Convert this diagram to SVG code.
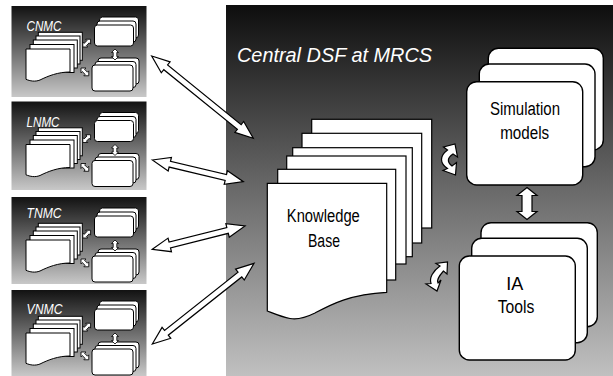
<svg xmlns="http://www.w3.org/2000/svg" xmlns:xlink="http://www.w3.org/1999/xlink" width="613" height="376" viewBox="0 0 613 376">
<style>
.pg{fill:#fff;stroke:#000;stroke-width:1.2}
.card{fill:#fff;stroke:#000;stroke-width:1}
.big{fill:#fff;stroke:#000;stroke-width:1.4}
.arr{fill:#fff;stroke:#000;stroke-width:1.2;stroke-linejoin:miter}
.sarr{fill:#fff;stroke:#000;stroke-width:0.8}
.lbl{font-family:"Liberation Sans",Arial,sans-serif;font-style:italic;fill:#fff}
.txt{font-family:"Liberation Sans",Arial,sans-serif;fill:#000;text-anchor:middle}
</style>
<defs>
<linearGradient id="gMain" x1="0" y1="0" x2="0" y2="1">
<stop offset="0" stop-color="#0e0e0e"/>
<stop offset="0.5" stop-color="#6a6a6a"/>
<stop offset="1" stop-color="#c0c0c0"/>
</linearGradient>
<linearGradient id="gPanel" x1="0" y1="0" x2="0" y2="1">
<stop offset="0" stop-color="#121212"/>
<stop offset="1" stop-color="#c8c8c8"/>
</linearGradient>
<g id="mini">
<rect class="card" x="38.3" y="32.3" width="44" height="28"/>
<rect class="card" x="36" y="36" width="44" height="28"/>
<rect class="card" x="33.3" y="40" width="44" height="28"/>
<rect class="card" x="30" y="44.5" width="44" height="28"/>
<path class="card" d="M26,49 H70 V72 C58,72 48,76 40,80 C35,82 30,81 26,79.3 Z"/>
<rect class="card" x="99.5" y="17" width="39" height="21" rx="3"/>
<rect class="card" x="97" y="21" width="39" height="21" rx="3"/>
<rect class="card" x="94.5" y="25" width="39" height="21" rx="3"/>
<rect class="card" x="98" y="58" width="41" height="26" rx="3"/>
<rect class="card" x="95" y="61.5" width="41" height="26" rx="3"/>
<rect class="card" x="92" y="65" width="41" height="26" rx="3"/>
<path class="sarr" transform="translate(115,49) rotate(90)" d="M0,0 L3.5,-3.5 L3.5,-1.8 L7.5,-1.8 L7.5,-3.5 L11,0 L7.5,3.5 L7.5,1.8 L3.5,1.8 L3.5,3.5 Z"/>
<path class="sarr" transform="translate(82.8,47) rotate(-45)" d="M0,0 L3.5,-3.5 L3.5,-1.6 L7.5,-1.6 L7.5,-3.5 L11,0 L7.5,3.5 L7.5,1.6 L3.5,1.6 L3.5,3.5 Z"/>
<path class="sarr" transform="translate(81,68) rotate(45)" d="M0,0 L3.5,-3.5 L3.5,-1.6 L7.5,-1.6 L7.5,-3.5 L11,0 L7.5,3.5 L7.5,1.6 L3.5,1.6 L3.5,3.5 Z"/>
</g>
</defs>
<rect width="613" height="376" fill="#fff"/>

<g id="central">
<rect x="226" y="5" width="387" height="371" fill="url(#gMain)"/>
<text class="lbl" x="237" y="62" font-size="20" textLength="195" lengthAdjust="spacingAndGlyphs">Central DSF at MRCS</text>
</g>

<g id="panel-cnmc">
<rect x="11.5" y="6" width="135" height="91" fill="url(#gPanel)"/>
<text class="lbl" x="26.5" y="31" font-size="14" textLength="35" lengthAdjust="spacingAndGlyphs">CNMC</text>
<use xlink:href="#mini"/>
</g>
<g id="panel-lnmc">
<rect x="11.5" y="101.5" width="135" height="88.5" fill="url(#gPanel)"/>
<text class="lbl" x="26.5" y="126.5" font-size="14" textLength="33" lengthAdjust="spacingAndGlyphs">LNMC</text>
<use xlink:href="#mini" transform="translate(0,95.5)"/>
</g>
<g id="panel-tnmc">
<rect x="11.5" y="197" width="135" height="87" fill="url(#gPanel)"/>
<text class="lbl" x="26.5" y="218" font-size="14" textLength="35" lengthAdjust="spacingAndGlyphs">TNMC</text>
<use xlink:href="#mini" transform="translate(0,191)"/>
</g>
<g id="panel-vnmc">
<rect x="11.5" y="290" width="135" height="86" fill="url(#gPanel)"/>
<text class="lbl" x="26.5" y="313.5" font-size="14" textLength="36" lengthAdjust="spacingAndGlyphs">VNMC</text>
<use xlink:href="#mini" transform="translate(0,284)"/>
</g>

<g id="knowledge-base">
<rect class="pg" x="311.7" y="119.3" width="120" height="108.7"/>
<rect class="pg" x="302" y="133.3" width="119.7" height="109.7"/>
<rect class="pg" x="292.7" y="147.7" width="119.6" height="109"/>
<rect class="pg" x="286.7" y="156" width="119.3" height="108"/>
<rect class="pg" x="277.7" y="169.3" width="118" height="110.7"/>
<path class="pg" d="M267.3,183.3 H386.7 V292.3 C350,294 330,305 315,313 C305,318 298,320 290,318.5 C282,317 275,314 267.3,311 Z"/>
<text class="txt" x="323.3" y="222" font-size="18" textLength="73" lengthAdjust="spacingAndGlyphs">Knowledge</text>
<text class="txt" x="324" y="247" font-size="18" textLength="32" lengthAdjust="spacingAndGlyphs">Base</text>
</g>

<g id="simulation-models">
<rect class="big" x="488.3" y="48.3" width="115" height="101.7" rx="10"/>
<rect class="big" x="479.3" y="64" width="115.7" height="102.7" rx="10"/>
<rect class="big" x="466.7" y="81.7" width="116" height="103.3" rx="10"/>
<text class="txt" x="525" y="115" font-size="18" textLength="70" lengthAdjust="spacingAndGlyphs">Simulation</text>
<text class="txt" x="524.7" y="139" font-size="18" textLength="49" lengthAdjust="spacingAndGlyphs">models</text>
</g>

<g id="ia-tools">
<rect class="big" x="481" y="222.7" width="116.3" height="104" rx="10"/>
<rect class="big" x="471.7" y="238.3" width="115.6" height="104.4" rx="10"/>
<rect class="big" x="459.3" y="256" width="116" height="104" rx="10"/>
<text class="txt" x="514.7" y="290" font-size="18" textLength="17" lengthAdjust="spacingAndGlyphs">IA</text>
<text class="txt" x="516" y="313" font-size="18" textLength="36.7" lengthAdjust="spacingAndGlyphs">Tools</text>
</g>

<g id="connectors">
<path class="arr" transform="translate(151.7,56) rotate(39)" d="M0,0 L18,-7 L18,-3 L112.7,-3 L112.7,-7 L130.7,0 L112.7,7 L112.7,3 L18,3 L18,7 Z"/>
<path class="arr" transform="translate(152.3,160) rotate(13.4)" d="M0,0 L18,-7 L18,-3 L75.6,-3 L75.6,-7 L93.6,0 L75.6,7 L75.6,3 L18,3 L18,7 Z"/>
<path class="arr" transform="translate(152.3,249.3) rotate(-14.1)" d="M0,0 L18,-7 L18,-3 L77.6,-3 L77.6,-7 L95.6,0 L77.6,7 L77.6,3 L18,3 L18,7 Z"/>
<path class="arr" transform="translate(152.3,344) rotate(-38.4)" d="M0,0 L18,-7 L18,-3 L111.8,-3 L111.8,-7 L129.8,0 L111.8,7 L111.8,3 L18,3 L18,7 Z"/>
<path class="arr" transform="translate(527,187.5) rotate(90)" d="M0,0 L8,-10 L8,-5 L24,-5 L24,-10 L32,0 L24,10 L24,5 L8,5 L8,10 Z"/>
<path class="arr" d="M455,144 L457.5,157 L453,154 C447,158 447,162 452,166 L456.5,162.5 L455.5,175 L443,170.5 L447.5,168.5 C439.5,163 439.5,156 447.5,150 L443.5,147 Z"/>
<path class="arr" d="M447.5,262 L447,274 L443.5,271 C439,276 436,280 438,283 L441,280 L437,291 L426,284 L431,283.5 C429,278 433,271 440,266 L436,263.5 Z"/>
</g>
</svg>
